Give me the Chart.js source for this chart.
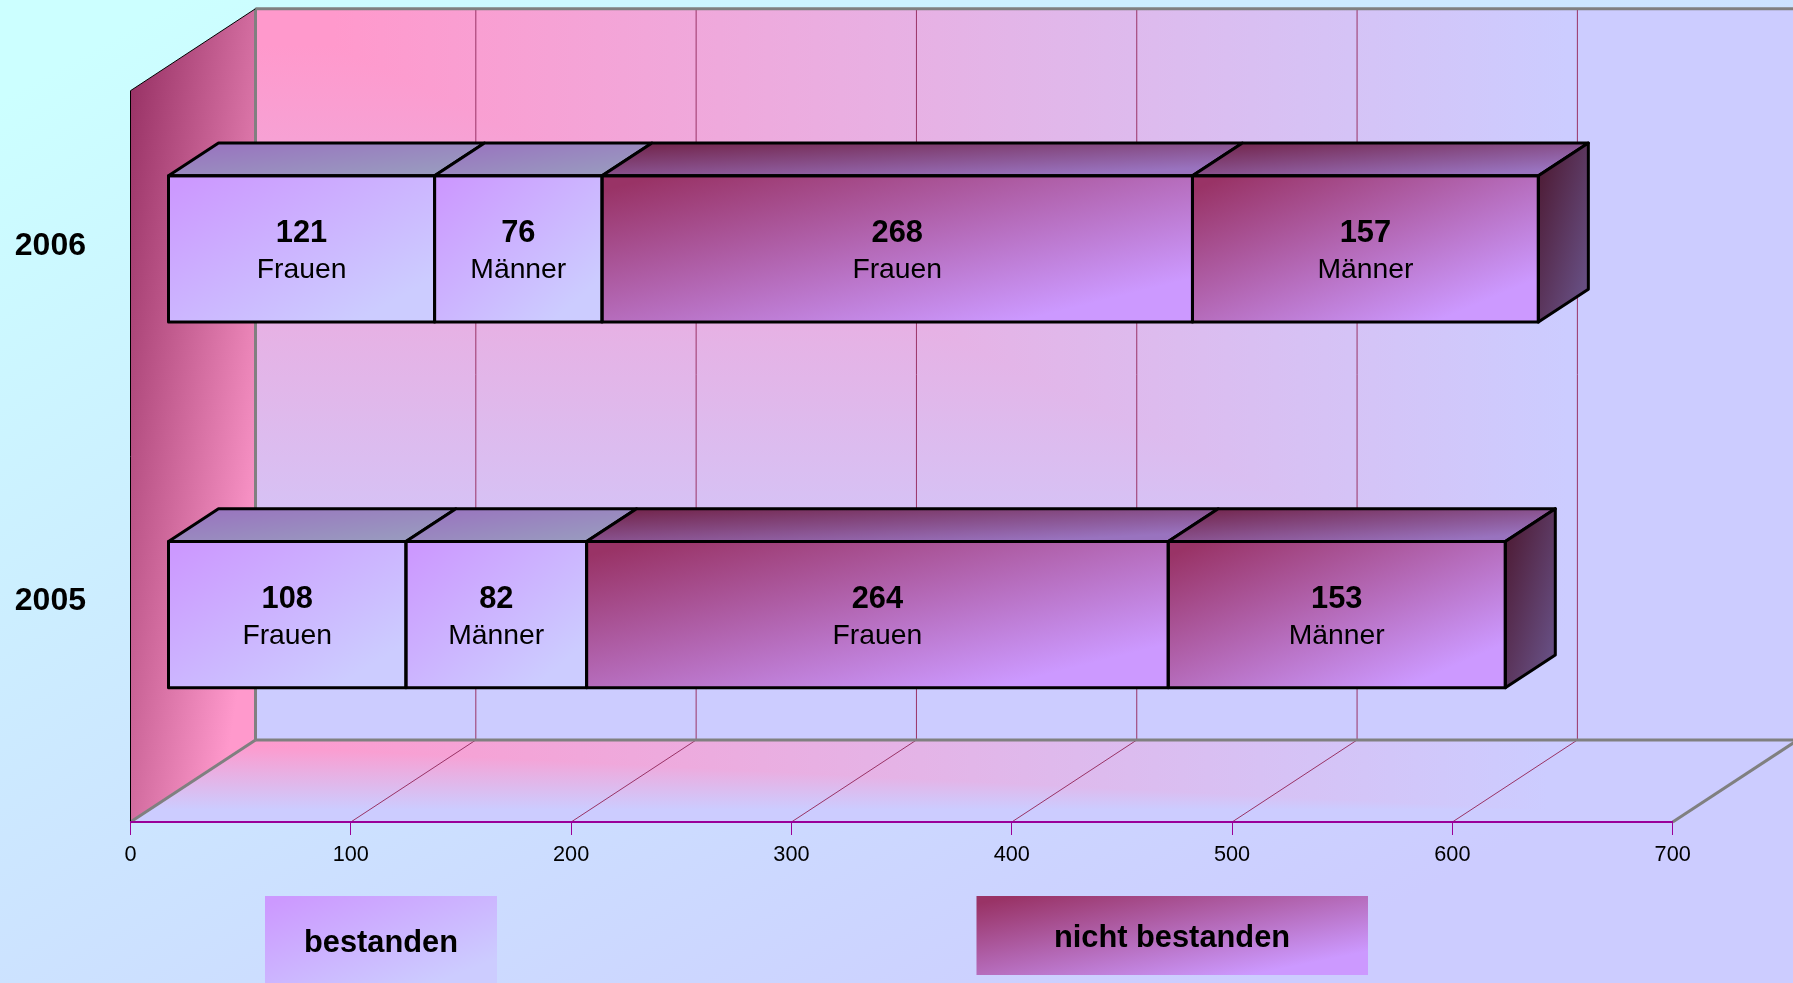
<!DOCTYPE html>
<html lang="de">
<head>
<meta charset="utf-8">
<title>Prüfungsergebnisse 2005 und 2006</title>
<style>
    html, body { margin: 0; padding: 0; overflow: hidden; background: #ccccff; }
    canvas { display: block; }
</style>
<script src="https://cdn.jsdelivr.net/npm/chart.js"></script>
</head>
<body>
<canvas id="examChart" width="1793" height="983"></canvas>
<script>
const years = ['2006', '2005'];
const passedWomen = [121, 108];
const passedMen = [76, 82];
const failedWomen = [268, 264];
const failedMen = [157, 153];
const xTicks = [0, 100, 200, 300, 400, 500, 600, 700];

const FONT = '"Liberation Sans", Arial, sans-serif';
const PASSED = ['#cc99ff', '#ccccff'];
const FAILED = ['#993366', '#cc99ff'];

// Depth of the fake 3D room, and where the bars sit inside it
const DEPTH_X = 125;
const DEPTH_Y = 82;
const BAR_FRONT = 0.3;
const BAR_BACK = 0.7;

// Gradients hold their end colours a little before the box edges
const STOP_FROM = 0.05;
const STOP_TO = 0.85;

function addStops(grad, from, to) {
    grad.addColorStop(STOP_FROM, from);
    grad.addColorStop(STOP_TO, to);
    return grad;
}

// top-left to bottom-right gradient that runs evenly across a box of any shape
function diagonalGradient(ctx, x, y, w, h, from, to) {
    const gx = 1 / (2 * w);
    const gy = 1 / (2 * h);
    const len = gx * gx + gy * gy;
    return addStops(ctx.createLinearGradient(x, y, x + gx / len, y + gy / len), from, to);
}

// "from corner" fill: colour depends on the larger of the two box fractions
function fillFromCorner(ctx, x, y, w, h, from, to) {
    ctx.fillStyle = addStops(ctx.createLinearGradient(x, 0, x + w, 0), from, to);
    ctx.fillRect(x, y, w, h);

    ctx.fillStyle = addStops(ctx.createLinearGradient(0, y, 0, y + h), from, to);
    ctx.beginPath();
    ctx.moveTo(x, y);
    ctx.lineTo(x, y + h);
    ctx.lineTo(x + w, y + h);
    ctx.closePath();
    ctx.fill();
}

function polygon(ctx, points) {
    ctx.beginPath();
    points.forEach(([px, py], i) => (i ? ctx.lineTo(px, py) : ctx.moveTo(px, py)));
    ctx.closePath();
}

function line(ctx, x1, y1, x2, y2) {
    ctx.beginPath();
    ctx.moveTo(x1, y1);
    ctx.lineTo(x2, y2);
    ctx.stroke();
}

function shade(hex, factor) {
    const n = parseInt(hex.slice(1), 16);
    const c = [n >> 16, (n >> 8) & 255, n & 255].map(v => Math.round(v * factor));
    return `rgb(${c[0]}, ${c[1]}, ${c[2]})`;
}

// Page background, back wall, left wall and floor
const roomPlugin = {
    id: 'room',
    beforeDraw(chart) {
        const { ctx, width, height, chartArea, scales } = chart;
        const { left, right, top, bottom } = chartArea;
        const x = scales.x;
        const backTop = top - DEPTH_Y;
        const backBottom = bottom - DEPTH_Y;
        const backLeft = left + DEPTH_X;
        const backRight = right + DEPTH_X;

        ctx.save();
        ctx.fillStyle = diagonalGradient(ctx, 0, 0, width, height, '#ccffff', '#ccccff');
        ctx.fillRect(0, 0, width, height);

        fillFromCorner(ctx, backLeft, backTop, backRight - backLeft, backBottom - backTop, '#ff99cc', '#ccccff');

        ctx.save();
        polygon(ctx, [[left, bottom], [backLeft, backBottom], [backRight, backBottom], [right, bottom]]);
        ctx.clip();
        fillFromCorner(ctx, left, backBottom, backRight - left, bottom - backBottom, '#ff99cc', '#ccccff');
        ctx.restore();

        polygon(ctx, [[left, bottom], [left, top], [backLeft, backTop], [backLeft, backBottom]]);
        ctx.fillStyle = diagonalGradient(ctx, left, backTop, DEPTH_X, bottom - backTop, '#993366', '#ff99cc');
        ctx.fill();

        // grid runs up the back wall and across the floor
        ctx.strokeStyle = '#993366';
        ctx.lineWidth = 1;
        xTicks.slice(1, -1).forEach(v => {
            const px = x.getPixelForValue(v);
            line(ctx, px + DEPTH_X, backTop, px + DEPTH_X, backBottom);
            line(ctx, px, bottom, px + DEPTH_X, backBottom);
        });

        ctx.strokeStyle = '#808080';
        ctx.lineWidth = 3;
        line(ctx, backLeft, backTop, backLeft, backBottom);
        line(ctx, backLeft, backTop, width, backTop);
        line(ctx, backLeft, backBottom, width, backBottom);
        line(ctx, left, bottom, backLeft, backBottom);
        line(ctx, right, bottom, backRight, backBottom);

        ctx.strokeStyle = '#000';
        ctx.lineWidth = 1;
        ctx.beginPath();
        ctx.moveTo(left, bottom);
        ctx.lineTo(left, top);
        ctx.lineTo(backLeft, backTop);
        ctx.stroke();
        ctx.restore();
    }
};

// Moves the bars to their place in the room and adds top face, end face and labels
const blockPlugin = {
    id: 'blocks',
    beforeDatasetsDraw(chart) {
        chart.ctx.save();
        chart.ctx.translate(DEPTH_X * BAR_FRONT, -DEPTH_Y * BAR_FRONT);
    },
    afterDatasetsDraw(chart) {
        const { ctx, data } = chart;
        const offX = DEPTH_X * (BAR_BACK - BAR_FRONT);
        const offY = DEPTH_Y * (BAR_BACK - BAR_FRONT);
        const lastSet = data.datasets.length - 1;

        data.datasets.forEach((dataset, d) => {
            const [from, to] = dataset.colors;
            chart.getDatasetMeta(d).data.forEach((bar, i) => {
                const { x, y, base, height } = bar.getProps(['x', 'y', 'base', 'height'], true);
                const y0 = y - height / 2;
                const y1 = y + height / 2;

                ctx.lineJoin = 'round';
                ctx.strokeStyle = '#000';
                ctx.lineWidth = 3;

                polygon(ctx, [[base, y0], [base + offX, y0 - offY], [x + offX, y0 - offY], [x, y0]]);
                ctx.fillStyle = diagonalGradient(ctx, base, y0 - offY, x + offX - base, offY, shade(from, 0.75), shade(to, 0.75));
                ctx.fill();
                ctx.stroke();

                if (d === lastSet) {
                    polygon(ctx, [[x, y0], [x + offX, y0 - offY], [x + offX, y1 - offY], [x, y1]]);
                    ctx.fillStyle = diagonalGradient(ctx, x, y0 - offY, offX, height + offY, shade(from, 0.5), shade(to, 0.5));
                    ctx.fill();
                    ctx.stroke();
                }

                ctx.strokeRect(base, y0, x - base, height);

                const mid = (base + x) / 2;
                ctx.fillStyle = '#000';
                ctx.textAlign = 'center';
                ctx.textBaseline = 'middle';
                ctx.font = `bold 30.8px ${FONT}`;
                ctx.fillText(dataset.data[i], mid, y - 15);
                ctx.font = `28.3px ${FONT}`;
                ctx.fillText(dataset.gender, mid, y + 21.5);
            });
        });
        ctx.restore();
    },
    afterDraw(chart) {
        const { ctx, scales } = chart;
        ctx.save();
        ctx.fillStyle = '#000';
        ctx.textBaseline = 'middle';

        // year captions sit a little above their rows, each by its own amount
        ctx.textAlign = 'right';
        ctx.font = `bold 32px ${FONT}`;
        const captionShift = [-27, -38.5];
        years.forEach((year, i) => {
            ctx.fillText(year, 86, scales.y.getPixelForValue(i) + captionShift[i]);
        });

        ctx.textAlign = 'center';
        ctx.font = `bold 30.8px ${FONT}`;
        ctx.fillStyle = diagonalGradient(ctx, 265, 896, 232, 90, PASSED[0], PASSED[1]);
        ctx.fillRect(265, 896, 232, 90);
        ctx.fillStyle = diagonalGradient(ctx, 976.5, 896, 391.5, 79, FAILED[0], FAILED[1]);
        ctx.fillRect(976.5, 896, 391.5, 79);
        ctx.fillStyle = '#000';
        ctx.fillText('bestanden', 381, 944);
        ctx.fillText('nicht bestanden', 1172, 939);
        ctx.restore();
    }
};

function makeSet(label, gender, values, colors) {
    return {
        label,
        gender,
        colors,
        data: values,
        borderWidth: 0,
        backgroundColor(context) {
            const { chart, datasetIndex, dataIndex } = context;
            if (dataIndex === undefined || !chart.chartArea) return colors[1];
            const sets = chart.data.datasets;
            let sum = 0;
            for (let d = 0; d < datasetIndex; d++) sum += sets[d].data[dataIndex];
            const x0 = chart.scales.x.getPixelForValue(sum);
            const x1 = chart.scales.x.getPixelForValue(sum + values[dataIndex]);
            const yc = chart.scales.y.getPixelForValue(dataIndex);
            const h = chart.scales.y.height / years.length * 0.4;
            return diagonalGradient(chart.ctx, x0, yc - h / 2, x1 - x0, h, colors[0], colors[1]);
        }
    };
}

new Chart(document.getElementById('examChart').getContext('2d'), {
    type: 'bar',
    data: {
        labels: years,
        datasets: [
            makeSet('bestanden', 'Frauen', passedWomen, PASSED),
            makeSet('bestanden', 'Männer', passedMen, PASSED),
            makeSet('nicht bestanden', 'Frauen', failedWomen, FAILED),
            makeSet('nicht bestanden', 'Männer', failedMen, FAILED)
        ]
    },
    options: {
        indexAxis: 'y',
        responsive: false,
        animation: false,
        events: [],
        categoryPercentage: 1,
        barPercentage: 0.4,
        layout: { padding: { top: 90.7, right: 120.3, bottom: 0, left: 0 } },
        plugins: { legend: { display: false }, tooltip: { enabled: false } },
        scales: {
            x: {
                stacked: true,
                min: 0,
                max: 700,
                afterFit: scale => { scale.height = 161; },
                afterBuildTicks: scale => { scale.ticks = xTicks.map(value => ({ value })); },
                border: { color: '#990099', width: 2 },
                grid: { drawOnChartArea: false, tickLength: 13, tickColor: '#990099', tickWidth: 1 },
                ticks: {
                    color: '#000',
                    padding: 7,
                    maxRotation: 0,
                    autoSkip: false,
                    font: { family: FONT, size: 21.7 }
                }
            },
            y: {
                stacked: true,
                afterFit: scale => { scale.width = 130.5; },
                border: { display: false },
                grid: { display: false },
                ticks: { display: false }
            }
        }
    },
    plugins: [roomPlugin, blockPlugin]
});
</script>
</body>
</html>
